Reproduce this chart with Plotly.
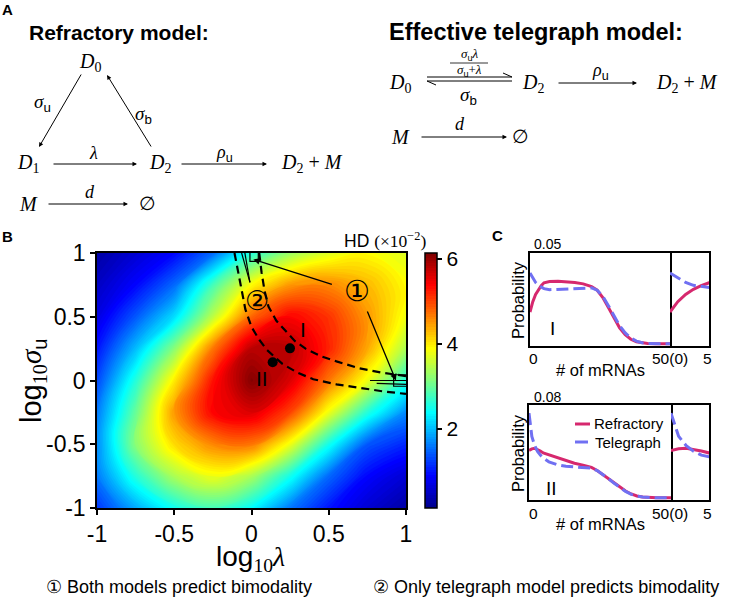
import plotly.graph_objects as go

W, H = 736, 599

# ---------------- Panel B data ----------------
log10_lambda = [-1.0, -0.75, -0.5, -0.25, 0.0, 0.25, 0.5, 0.75, 1.0]
log10_sigma_u = [-1.0, -0.75, -0.5, -0.25, 0.0, 0.25, 0.5, 0.75, 1.0]
# HD (x10^-2); rows follow log10_sigma_u, columns follow log10_lambda
hd_row_m100 = [1.2, 1.9, 2.5, 2.8, 2.4, 1.6, 1.0, 0.6, 0.3]
hd_row_m075 = [1.6, 2.6, 3.4, 3.8, 3.4, 2.5, 1.5, 0.9, 0.6]
hd_row_m050 = [1.7, 3.2, 4.1, 4.6, 4.7, 3.8, 2.5, 1.4, 1.1]
hd_row_m025 = [1.6, 3.0, 4.5, 5.4, 5.6, 5.0, 3.8, 2.6, 1.7]
hd_row_p000 = [1.3, 2.6, 4.0, 5.3, 6.1, 5.6, 4.7, 3.8, 2.6]
hd_row_p025 = [1.0, 2.0, 3.2, 4.7, 5.8, 5.8, 5.2, 4.4, 3.4]
hd_row_p050 = [0.7, 1.4, 2.2, 3.5, 4.8, 5.4, 5.1, 4.5, 3.8]
hd_row_p075 = [0.5, 0.9, 1.5, 2.8, 3.9, 4.5, 4.6, 4.3, 3.9]
hd_row_p100 = [0.3, 0.6, 0.9, 1.5, 2.6, 3.3, 3.7, 3.9, 3.7]
hd_grid = [hd_row_m100, hd_row_m075, hd_row_m050, hd_row_m025, hd_row_p000,
           hd_row_p025, hd_row_p050, hd_row_p075, hd_row_p100]

# dashed boundaries of the bimodality regions
bound_lo_x = [-0.11, -0.085, -0.06, -0.04, 0.0, 0.05, 0.1, 0.2, 0.3, 0.4, 0.55, 0.7, 0.85, 1.0]
bound_lo_y = [1.0, 0.85, 0.7, 0.56, 0.42, 0.32, 0.24, 0.13, 0.06, 0.01, -0.03, -0.06, -0.085, -0.105]
bound_hi_x = [0.05, 0.065, 0.085, 0.11, 0.16, 0.21, 0.28, 0.35, 0.45, 0.55, 0.7, 0.85, 1.0]
bound_hi_y = [1.0, 0.85, 0.7, 0.58, 0.47, 0.4, 0.31, 0.25, 0.19, 0.15, 0.095, 0.06, 0.035]
# small regions (1): both models bimodal
reg1_x = [-0.064, -0.01, None, -0.043, -0.01, None, -0.01, -0.01, 0.044, 0.044, None,
          0.767, 1.0, None, 0.81, 1.0, None, 1.0, 0.92, 0.92, 1.0]
reg1_y = [1.0, 0.77, None, 1.0, 0.77, None, 1.0, 0.935, 0.935, 1.0, None,
          0.0, 0.0, None, -0.022, -0.03, None, 0.045, 0.045, -0.045, -0.045]
# parameter points I and II
pts_x = [0.249, 0.137]
pts_y = [0.252, 0.143]
pts_names = ["I", "II"]
cbar_ticks = [2, 4, 6]

# ---------------- Panel C data ----------------
mrna_n = [0, 1, 2, 3, 4, 5, 7, 10, 13, 16, 19, 22, 24, 26, 28, 30, 32, 34, 36, 38, 40, 42, 45, 50]
refr_I = [0.0175, 0.0232, 0.0272, 0.0300, 0.0320, 0.0336, 0.0343, 0.0345, 0.0343, 0.0338, 0.0330,
          0.0315, 0.0295, 0.0255, 0.0200, 0.0140, 0.0088, 0.0050, 0.0025, 0.0011, 0.0005, 0.0002, 0.0, 0.0]
tele_I = [0.0390, 0.0362, 0.0338, 0.0322, 0.0312, 0.0304, 0.0298, 0.0300, 0.0303, 0.0307, 0.0310,
          0.0308, 0.0295, 0.0262, 0.0210, 0.0152, 0.0100, 0.0060, 0.0032, 0.0015, 0.0006, 0.0002, 0.0, 0.0]
refr_II = [0.0407, 0.0422, 0.0427, 0.0418, 0.0403, 0.0387, 0.0370, 0.0348, 0.0320, 0.0298, 0.0282,
           0.0262, 0.0236, 0.0200, 0.0162, 0.0125, 0.0090, 0.0058, 0.0033, 0.0016, 0.0007, 0.0003, 0.0, 0.0]
tele_II = [0.0730, 0.0530, 0.0450, 0.0400, 0.0368, 0.0343, 0.0310, 0.0285, 0.0272, 0.0268, 0.0265,
           0.0255, 0.0235, 0.0203, 0.0165, 0.0125, 0.0088, 0.0055, 0.0030, 0.0014, 0.0006, 0.0002, 0.0, 0.0]

# ---------------- helpers ----------------
def PX(x):
    return x / W

def PY(y):
    return 1 - y / H

SANS = "Liberation Sans, Arial, Helvetica, sans-serif"
SERIF = "Liberation Serif, DejaVu Serif, serif"
PINK = "rgb(214,40,110)"
BLUE = "rgb(112,112,242)"

def sf(t):
    return '<span style="font-family:Liberation Sans">' + t + '</span>'

annotations = []
shapes = []

def txt(x, y, text, size=18, family=SERIF, xanchor="center", yanchor="middle", color="black", angle=0):
    annotations.append(dict(x=PX(x), y=PY(y), xref="paper", yref="paper", text=text, showarrow=False,
                            font=dict(size=size, family=family, color=color), xanchor=xanchor,
                            yanchor=yanchor, textangle=angle, borderpad=0))

def arrow(hx, hy, tx, ty, width=1.0, size=0.9):
    annotations.append(dict(x=PX(hx), y=PY(hy), xref="paper", yref="paper", ax=tx - hx, ay=ty - hy,
                            axref="pixel", ayref="pixel", text="", showarrow=True, arrowhead=2,
                            arrowsize=size, arrowwidth=width, arrowcolor="black", standoff=0))

def pline(x0, y0, x1, y1, width=1.0, color="black", dash=None):
    ln = dict(color=color, width=width)
    if dash:
        ln["dash"] = dash
    shapes.append(dict(type="line", xref="paper", yref="paper", x0=PX(x0), y0=PY(y0), x1=PX(x1), y1=PY(y1), line=ln))

# ---------------- Panel A ----------------
txt(7, 9, "<b>A</b>", size=15, family=SANS)
txt(28, 32, "<b>Refractory model:</b>", size=21, family=SANS, xanchor="left")
txt(90, 62, "<i>D</i><sub>0</sub>", size=20)
txt(42, 103, "<i>σ</i><sub>" + sf("u") + "</sub>", size=19)
txt(143, 115, "<i>σ</i><sub>" + sf("b") + "</sub>", size=19)
txt(28, 163, "<i>D</i><sub>1</sub>", size=20)
txt(93, 153, "<i>λ</i>", size=18)
txt(160, 163, "<i>D</i><sub>2</sub>", size=20)
txt(224, 153, "<i>ρ</i><sub>" + sf("u") + "</sub>", size=18)
txt(312, 163, "<i>D</i><sub>2</sub> + <i>M</i>", size=20)
txt(28, 204, "<i>M</i>", size=20)
txt(90, 192, "<i>d</i>", size=18)
txt(147, 204, "∅", size=19)
arrow(39, 147, 82, 73)
arrow(107, 75, 152, 148)
arrow(137, 164, 52, 164)
arrow(267, 164, 180, 164)
arrow(128, 204, 47, 204)

txt(388, 32, "<b>Effective telegraph model:</b>", size=23.5, family=SANS, xanchor="left")
txt(400, 83, "<i>D</i><sub>0</sub>", size=20)
txt(469, 55, "<i>σ</i><sub>" + sf("u") + "</sub><i>λ</i>", size=13)
pline(450, 63, 488, 63, width=0.8)
txt(469, 71, "<i>σ</i><sub>" + sf("u") + "</sub>+<i>λ</i>", size=13)
pline(427, 77, 512, 77)
pline(512, 77, 503, 73)
pline(427, 81, 512, 81)
pline(427, 81, 436, 85)
txt(468, 96, "<i>σ</i><sub>" + sf("b") + "</sub>", size=19)
txt(533, 83, "<i>D</i><sub>2</sub>", size=20)
txt(600, 72, "<i>ρ</i><sub>" + sf("u") + "</sub>", size=18)
arrow(637, 83, 557, 83)
txt(687, 83, "<i>D</i><sub>2</sub> + <i>M</i>", size=20)
txt(400, 137, "<i>M</i>", size=20)
txt(460, 124, "<i>d</i>", size=18)
arrow(507, 137, 420, 137)
txt(520, 137, "∅", size=19)

# ---------------- Panel B ----------------
txt(7, 236, "<b>B</b>", size=15, family=SANS)
txt(343, 240, "HD <span style=\"font-family:Liberation Serif\">(×10<sup>−2</sup>)</span>", size=17.5,
    family=SANS, xanchor="left")
txt(250, 558, "log<sub><span style=\"font-family:Liberation Serif\">10</span></sub>"
    "<span style=\"font-family:Liberation Serif\"><i>λ</i></span>", size=28, family=SANS)
txt(33, 381, "log<sub><span style=\"font-family:Liberation Serif\">10</span></sub>"
    "<span style=\"font-family:Liberation Serif\"><i>σ</i></span><sub>u</sub>", size=29, family=SANS, angle=-90)
txt(45, 587, "① Both models predict bimodality", size=18, family=SANS, xanchor="left")
txt(372, 587, "② Only telegraph model predicts bimodality", size=18, family=SANS, xanchor="left")

jet = [[0.0, "rgb(0,0,140)"], [0.125, "rgb(0,0,255)"], [0.375, "rgb(0,255,255)"],
       [0.625, "rgb(255,255,0)"], [0.875, "rgb(255,0,0)"], [1.0, "rgb(128,0,0)"]]

fig = go.Figure()
fig.add_trace(go.Contour(
    x=log10_lambda, y=log10_sigma_u, z=hd_grid, colorscale=jet, zmin=0.14, zmax=6.14,
    autocontour=False, contours=dict(start=0.14, end=6.14, size=0.06, coloring="fill", showlines=False),
    line=dict(width=0, smoothing=1.3), xaxis="x", yaxis="y", hoverinfo="skip",
    colorbar=dict(x=PX(425), xanchor="left", y=PY(380.5), yanchor="middle", len=255 / H, lenmode="fraction",
                  thickness=12, outlinewidth=1.5, outlinecolor="black", tickvals=cbar_ticks,
                  ticktext=[str(t) for t in cbar_ticks], ticks="outside", ticklen=5, tickwidth=1.5,
                  tickcolor="black", tickfont=dict(size=21, family=SANS, color="black"), xpad=0, ypad=0)))
fig.add_trace(go.Scatter(x=bound_lo_x, y=bound_lo_y, mode="lines", line=dict(color="black", width=2.2, dash="8px,5px"),
                         xaxis="x", yaxis="y", showlegend=False, hoverinfo="skip"))
fig.add_trace(go.Scatter(x=bound_hi_x, y=bound_hi_y, mode="lines", line=dict(color="black", width=2.2, dash="8px,5px"),
                         xaxis="x", yaxis="y", showlegend=False, hoverinfo="skip"))
fig.add_trace(go.Scatter(x=reg1_x, y=reg1_y, mode="lines", line=dict(color="black", width=1.2),
                         xaxis="x", yaxis="y", showlegend=False, hoverinfo="skip", connectgaps=False))
fig.add_trace(go.Scatter(x=pts_x, y=pts_y, mode="markers", marker=dict(color="black", size=10),
                         xaxis="x", yaxis="y", showlegend=False, hoverinfo="skip"))

# labels and arrows inside the heatmap (data coordinates)
annotations.append(dict(x=pts_x[0] + 0.085, y=pts_y[0] + 0.145, xref="x", yref="y", text=pts_names[0],
                        showarrow=False, font=dict(size=21, family=SANS, color="black")))
annotations.append(dict(x=pts_x[1] - 0.07, y=pts_y[1] - 0.125, xref="x", yref="y", text=pts_names[1],
                        showarrow=False, font=dict(size=21, family=SANS, color="black")))
annotations.append(dict(x=0.68, y=0.70, xref="x", yref="y", text="①", showarrow=False,
                        font=dict(size=29, family="DejaVu Sans, Noto Sans CJK JP", color="black")))
annotations.append(dict(x=0.033, y=0.63, xref="x", yref="y", text="②", showarrow=False,
                        font=dict(size=27, family="DejaVu Sans, Noto Sans CJK JP", color="black")))
annotations.append(dict(x=0.012, y=0.95, xref="x", yref="y", ax=0.53, ay=0.75, axref="x", ayref="y",
                        text="", showarrow=True, arrowhead=2, arrowsize=1, arrowwidth=1.3, arrowcolor="black", standoff=0))
annotations.append(dict(x=0.935, y=0.0, xref="x", yref="y", ax=0.746, ay=0.553, axref="x", ayref="y",
                        text="", showarrow=True, arrowhead=2, arrowsize=1, arrowwidth=1.3, arrowcolor="black", standoff=0))

# ---------------- Panel C ----------------
txt(497, 235, "<b>C</b>", size=15, family=SANS)
panels = [
    (refr_I, tele_I, "x2", "y2", "x3", "y3"),
    (refr_II, tele_II, "x4", "y4", "x5", "y5"),
]
for refr, tele, xm, ym, xi, yi in panels:
    for xa, ya in ((xm, ym), (xi, yi)):
        fig.add_trace(go.Scatter(x=mrna_n, y=refr, mode="lines", line=dict(color=PINK, width=3),
                                 xaxis=xa, yaxis=ya, showlegend=False, hoverinfo="skip"))
        fig.add_trace(go.Scatter(x=mrna_n, y=tele, mode="lines", line=dict(color=BLUE, width=3, dash="12px,5px"),
                                 xaxis=xa, yaxis=ya, showlegend=False, hoverinfo="skip"))

for (ytop, ylabel, ytick, ytitle, roman, yroman, ymax_lbl) in [
        (244, 300, 358, 370, "I", 328, "0.05"),
        (397, 453, 513, 524, "II", 488, "0.08")]:
    txt(533, ytop, ymax_lbl, size=14, family=SANS, xanchor="left")
    txt(518, ylabel, "Probability", size=16.5, family=SANS, angle=-90)
    txt(533, ytick, "0", size=15.5, family=SANS)
    txt(670, ytick, "50(0)", size=15.5, family=SANS)
    txt(707, ytick, "5", size=15.5, family=SANS)
    txt(600, ytitle, "# of mRNAs", size=16.5, family=SANS)
    txt(552 if roman == "I" else 551, yroman, roman, size=19, family=SANS)

# legend in bottom panel
pline(575, 424, 590, 424, width=3, color=PINK)
pline(575, 442, 588, 442, width=3, color=BLUE)
txt(593, 424, "Refractory", size=15, family=SANS, xanchor="left")
txt(594, 442, "Telegraph", size=15, family=SANS, xanchor="left")

# ---------------- layout ----------------
ax_common = dict(showgrid=False, zeroline=False, showline=True, linecolor="black", linewidth=1.5, mirror=True)
hm_ticks = [-1, -0.5, 0, 0.5, 1]
hm_ticktext = ["-1", "-0.5", "0", "0.5", "1"]

def cax(dom, rng, **kw):
    d = dict(ax_common)
    d.update(domain=dom, range=rng, showticklabels=False, ticks="", fixedrange=True)
    d.update(kw)
    return d

fig.update_layout(
    width=W, height=H, margin=dict(l=0, r=0, t=0, b=0, autoexpand=False),
    paper_bgcolor="white", plot_bgcolor="white", showlegend=False,
    xaxis=dict(ax_common, domain=[PX(97), PX(406)], range=[-1, 1], tickvals=hm_ticks, ticktext=hm_ticktext,
               ticks="outside", ticklen=5, tickwidth=1.5, tickcolor="black",
               tickfont=dict(size=23, family=SANS, color="black"), anchor="y"),
    yaxis=dict(ax_common, domain=[PY(508), PY(253)], range=[-1, 1], tickvals=hm_ticks, ticktext=hm_ticktext,
               ticks="outside", ticklen=5, tickwidth=1.5, tickcolor="black",
               tickfont=dict(size=23, family=SANS, color="black"), anchor="x"),
    xaxis2=cax([PX(530), PX(670)], [0, 50], anchor="y2"),
    yaxis2=cax([PY(346), PY(253)], [-0.0012, 0.05], anchor="x2"),
    xaxis3=cax([PX(670), PX(709)], [0, 5], anchor="y3"),
    yaxis3=cax([PY(346), PY(253)], [-0.0012, 0.05], anchor="x3", side="right", mirror=False),
    xaxis4=cax([PX(529), PX(671)], [0, 50], anchor="y4"),
    yaxis4=cax([PY(500), PY(405)], [-0.0019, 0.08], anchor="x4"),
    xaxis5=cax([PX(671), PX(709)], [0, 5], anchor="y5"),
    yaxis5=cax([PY(500), PY(405)], [-0.0019, 0.08], anchor="x5", side="right", mirror=False),
    annotations=annotations, shapes=shapes,
)

fig.write_html("out.html", config={"displayModeBar": False},
               post_script="document.body.style.margin='0px';document.body.style.overflow='hidden';")
